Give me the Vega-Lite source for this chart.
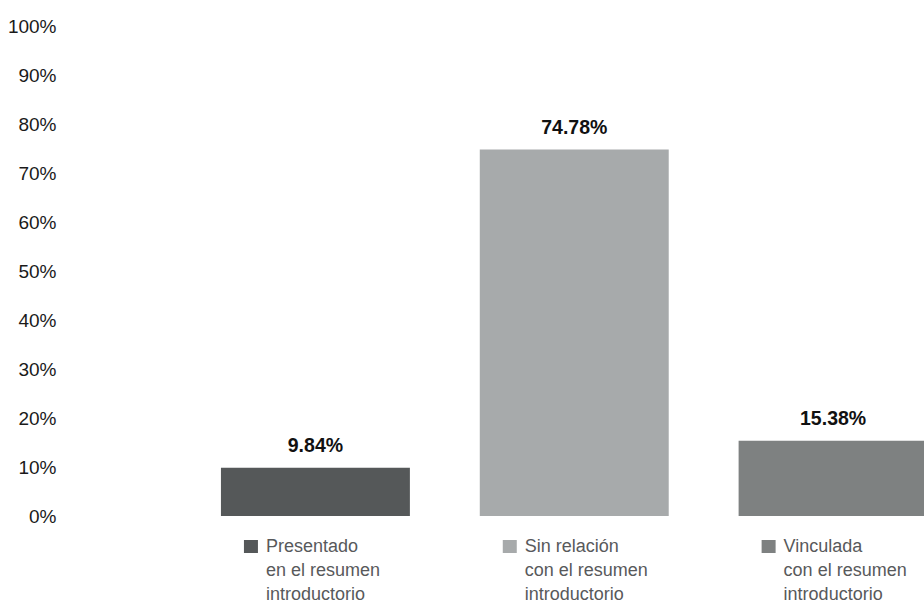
{
  "$schema": "https://vega.github.io/schema/vega-lite/v6.json",
  "width": 738,
  "height": 490,
  "autosize": {"type": "none"},
  "padding": {"left": 186, "top": 26, "right": 0, "bottom": 88},
  "background": "white",
  "config": {"view": {"stroke": null}, "font": "Liberation Sans"},
  "data": {
    "values": [
      {"cat": "Presentado en el resumen introductorio", "label": "Presentado\nen el resumen\nintroductorio", "value": 0.0984},
      {"cat": "Sin relación con el resumen introductorio", "label": "Sin relación\ncon el resumen\nintroductorio", "value": 0.7478},
      {"cat": "Vinculada con el resumen introductorio", "label": "Vinculada\ncon el resumen\nintroductorio", "value": 0.1538}
    ]
  },
  "encoding": {
    "x": {
      "field": "cat",
      "type": "nominal",
      "sort": null,
      "axis": null,
      "scale": {"range": [0, 776.5], "paddingInner": 0.27, "paddingOuter": 0.135}
    }
  },
  "layer": [
    {
      "mark": {"type": "bar"},
      "encoding": {
        "y": {
          "field": "value",
          "type": "quantitative",
          "scale": {"domain": [0, 1]},
          "axis": {
            "values": [0, 0.1, 0.2, 0.3, 0.4, 0.5, 0.6, 0.7, 0.8, 0.9, 1],
            "format": ".0%",
            "title": null,
            "domain": false,
            "ticks": false,
            "grid": false,
            "labelPadding": 130,
            "labelFont": "Liberation Sans",
            "labelFontSize": 19,
            "labelColor": "#1a1a1a"
          }
        },
        "color": {
          "field": "cat",
          "type": "nominal",
          "scale": {
            "domain": ["Presentado en el resumen introductorio", "Sin relación con el resumen introductorio", "Vinculada con el resumen introductorio"],
            "range": ["#555859", "#a7aaab", "#7e8181"]
          },
          "legend": null
        }
      }
    },
    {
      "mark": {"type": "text", "dy": -16, "baseline": "alphabetic", "fontWeight": "bold", "fontSize": 19.5, "font": "Liberation Sans", "color": "#111111"},
      "encoding": {
        "y": {"field": "value", "type": "quantitative"},
        "text": {"field": "value", "type": "quantitative", "format": ".2%"}
      }
    },
    {
      "mark": {"type": "point", "shape": "M23,24H37V37H23Z", "size": 4, "filled": true, "opacity": 1, "strokeWidth": 0},
      "encoding": {
        "x": {"field": "cat", "type": "nominal", "sort": null, "bandPosition": 0},
        "y": {"datum": 0, "type": "quantitative"},
        "color": {"field": "cat", "type": "nominal"}
      }
    },
    {
      "mark": {"type": "text", "align": "left", "baseline": "alphabetic", "dx": 45, "dy": 36, "lineBreak": "\n", "lineHeight": 24, "fontSize": 18, "font": "Liberation Sans", "color": "#58595b"},
      "encoding": {
        "x": {"field": "cat", "type": "nominal", "sort": null, "bandPosition": 0},
        "y": {"datum": 0, "type": "quantitative"},
        "text": {"field": "label", "type": "nominal"}
      }
    }
  ]
}
